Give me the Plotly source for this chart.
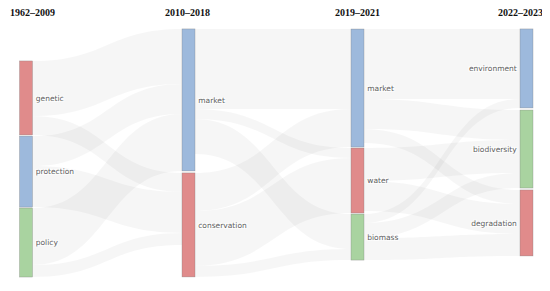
import plotly.graph_objects as go

# ---- data ----
node_labels = ["genetic", "protection", "policy",
               "market", "conservation",
               "market", "water", "biomass",
               "environment", "biodiversity", "degradation"]
period_labels = ["1962–2009", "2010–2018", "2019–2021", "2022–2023"]

link_source = [0, 0, 1, 1, 2, 2,
               3, 3, 3, 4, 4, 4,
               5, 5, 5, 6, 6, 7, 7, 7]
link_target = [3, 4, 3, 4, 3, 4,
               5, 6, 7, 5, 6, 7,
               8, 9, 10, 9, 10, 8, 9, 10]
link_value = [55, 19, 30, 41, 57, 12,
              80, 10, 35, 38, 55, 11,
              70, 30, 14, 33, 30, 9, 15, 22]

# ---- style / layout ----
RED, BLUE, GREEN = "#E08B8B", "#9DB9DC", "#A9D3A0"
node_colors = [RED, BLUE, GREEN, BLUE, RED, BLUE, RED, GREEN, BLUE, GREEN, RED]

W, H = 550, 291
OFF = 8  # page body margin
col_px = [26, 188.5, 357.5, 526.5]
col_x = [(p - OFF) / W for p in col_px]
node_x = [col_x[0]] * 3 + [col_x[1]] * 2 + [col_x[2]] * 3 + [col_x[3]] * 3
node_y = [0.278, 0.575, 0.861,
          0.286, 0.790,
          0.238, 0.611, 0.839,
          0.159, 0.484, 0.782]

top_px, bot_px = 29 - OFF, 277 - OFF

fig = go.Figure(go.Sankey(
    arrangement="fixed",
    domain=dict(x=[0, 1], y=[(H - bot_px) / H, (H - top_px) / H]),
    node=dict(label=node_labels, color=node_colors, x=node_x, y=node_y,
              pad=2, thickness=13,
              line=dict(color="rgba(120,120,120,0.6)", width=0.5)),
    link=dict(source=link_source, target=link_target, value=link_value,
              color="rgba(0,0,0,0.035)"),
    textfont=dict(family="DejaVu Sans", size=7.5, color="#606060"),
))

header_pos = [(8, "left"), (187, "center"), (357, "center"), (545, "right")]
for lbl, (px, anc) in zip(period_labels, header_pos):
    fig.add_annotation(text="<b>" + lbl + "</b>", x=(px - OFF) / W, y=1 - (12.5 - OFF) / H,
                       xref="paper", yref="paper", showarrow=False,
                       xanchor=anc, yanchor="middle",
                       font=dict(family="Liberation Serif", size=10, color="#111111"))

fig.update_layout(width=W, height=H, margin=dict(l=0, r=0, t=0, b=0),
                  paper_bgcolor="white", plot_bgcolor="white")
fig.write_html("out.html")
